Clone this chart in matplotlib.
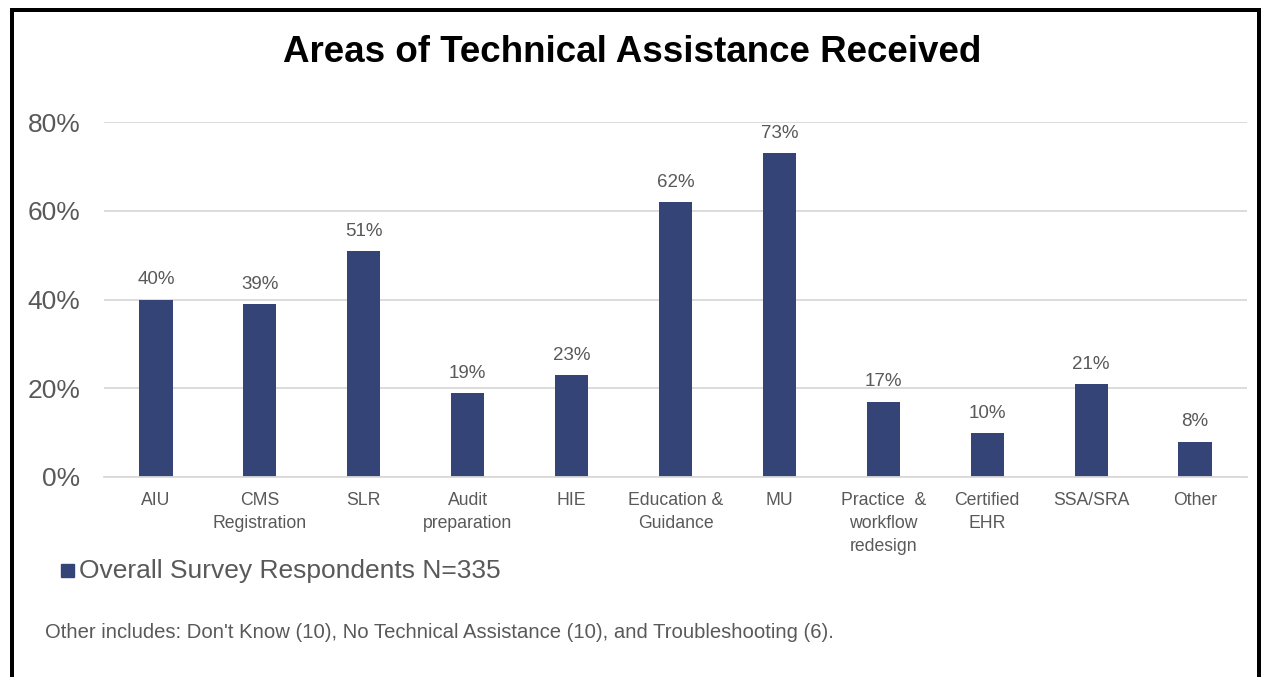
import matplotlib
matplotlib.use("Agg")
import matplotlib.pyplot as plt
from matplotlib.lines import Line2D
from matplotlib.ticker import FuncFormatter

plt.rcParams['font.family'] = ['Liberation Sans', 'DejaVu Sans']

categories = ["AIU", "CMS\nRegistration", "SLR", "Audit\npreparation", "HIE",
              "Education &\nGuidance", "MU", "Practice  &\nworkflow\nredesign",
              "Certified\nEHR", "SSA/SRA", "Other"]
values = [40, 39, 51, 19, 23, 62, 73, 17, 10, 21, 8]
y_ticks = [0, 20, 40, 60, 80]
series_name = "Overall Survey Respondents N=335"
title = "Areas of Technical Assistance Received"
note = "Other includes: Don't Know (10), No Technical Assistance (10), and Troubleshooting (6)."

bar_color = "#344476"
text_gray = "#595959"
grid_gray = "#d9d9d9"

W, H = 1262, 677
fig = plt.figure(figsize=(W / 100, H / 100), dpi=100)

left, right = 104 / W, 1247 / W
bottom, top = 1 - 477 / H, 1 - 122 / H
ax = fig.add_axes([left, bottom, right - left, top - bottom])

x = list(range(len(categories)))
ax.bar(x, values, width=0.32, color=bar_color, zorder=3)
ax.set_xlim(-0.5, len(categories) - 0.5)
ax.set_ylim(0, 80)
ax.set_yticks(y_ticks)
ax.yaxis.set_major_formatter(FuncFormatter(lambda v, p: f"{v:.0f}%"))
ax.tick_params(axis='y', length=0, pad=17, labelsize=19, labelcolor=text_gray)
ax.set_xticks(x)
ax.set_xticklabels(categories, fontsize=12.7, color=text_gray, linespacing=1.45)
ax.tick_params(axis='x', length=0, pad=11)
ax.grid(axis='y', color=grid_gray, linewidth=1.3, zorder=0)
for side in ("left", "right", "top"):
    ax.spines[side].set_visible(False)
ax.spines["bottom"].set_color(grid_gray)
ax.spines["bottom"].set_linewidth(1.3)
ax.spines["bottom"].set_zorder(4)

for xi, v in zip(x, values):
    ax.annotate(f"{v}%", (xi, v), xytext=(0, 8), textcoords="offset points",
                ha="center", va="bottom", fontsize=13.5, color=text_gray)

fig.text(632 / W, 1 - 52 / H, title, ha="center", va="center",
         fontsize=26.5, fontweight="bold", color="black")

# legend entry
fig.patches.append(plt.Rectangle((61 / W, 1 - 577 / H), 13 / W, 13 / H,
                                 transform=fig.transFigure, color=bar_color))
fig.text(79 / W, 1 - 571 / H, series_name, ha="left", va="center",
         fontsize=19, color=text_gray)

fig.text(45 / W, 1 - 632 / H, note, ha="left", va="center",
         fontsize=14.6, color=text_gray)

# frame around the figure
lw = 4 * 72 / 100
xs = [12 / W, 12 / W, 1259 / W, 1259 / W]
ys = [0, 1 - 10 / H, 1 - 10 / H, 0]
fig.lines.append(Line2D(xs, ys, transform=fig.transFigure, color="black",
                        linewidth=lw, solid_joinstyle="miter"))

fig.savefig("out.png", dpi=100, facecolor="white")
